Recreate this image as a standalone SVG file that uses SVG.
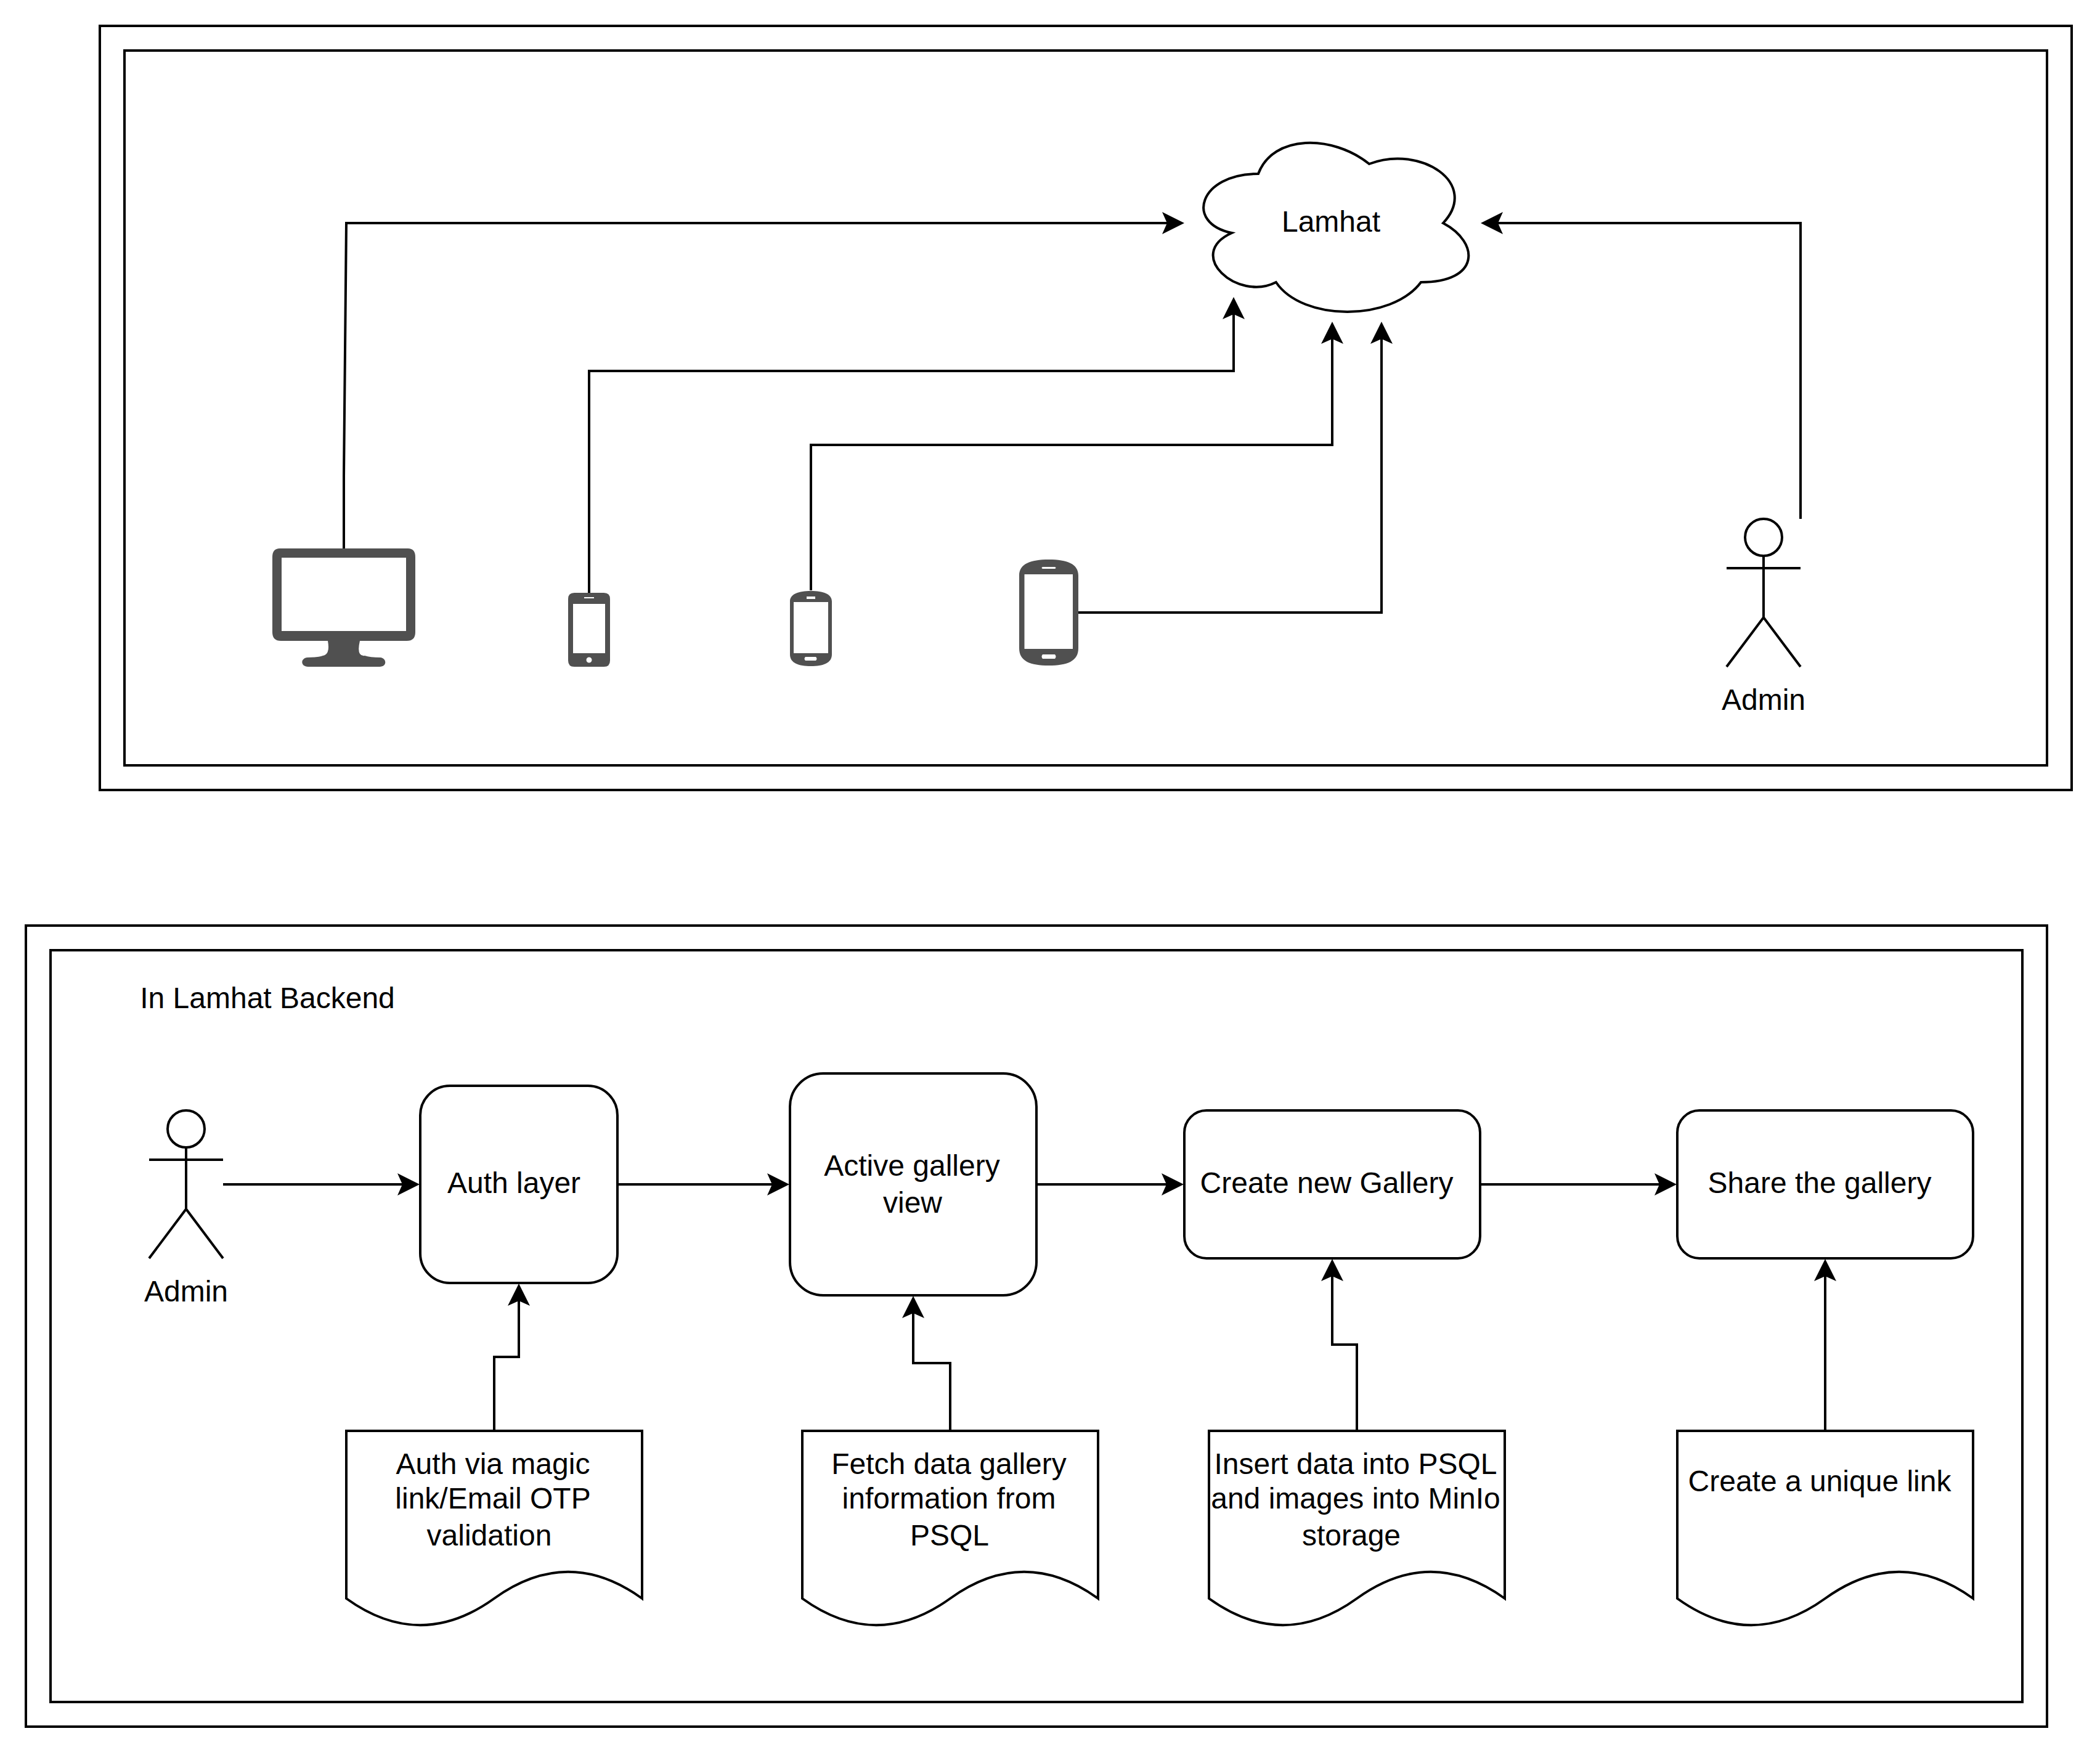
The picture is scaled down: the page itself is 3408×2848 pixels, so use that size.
<svg xmlns="http://www.w3.org/2000/svg" width="3408" height="2848" viewBox="0 0 3408 2848">
<style>
.s{fill:#fff;stroke:#000;stroke-width:4;stroke-miterlimit:10}
.a{fill:none;stroke:#000;stroke-width:4;stroke-miterlimit:10}
.c{fill:none;stroke:#000;stroke-width:4;stroke-miterlimit:10;marker-end:url(#arrow)}
.i{fill:#505050;fill-rule:evenodd}
text{font-family:"Liberation Sans",Arial,Helvetica,sans-serif;font-size:48px;fill:#000;text-anchor:middle}
</style>
<defs>
<marker id="arrow" markerUnits="userSpaceOnUse" markerWidth="36" markerHeight="36" viewBox="0 0 36 36" refX="12" refY="18" orient="auto"><path d="M36 18L0 0L8 18L0 36Z" fill="#000"/></marker>
<g id="actor-shape"><ellipse class="s" cx="60" cy="30" rx="30" ry="30"/><path class="a" d="M60 60V160M60 80H0M60 80H120M60 160L0 240M60 160L120 240"/></g>
</defs>
<rect width="3408" height="2848" fill="#fff"/>
<g id="frame-top-outer"><rect class="s" x="162" y="42" width="3200" height="1240"/></g>
<g id="frame-top-inner"><rect class="s" x="202" y="82" width="3120" height="1160"/></g>
<g id="frame-bottom-outer"><rect class="s" x="42" y="1502" width="3280" height="1300"/></g>
<g id="frame-bottom-inner"><rect class="s" x="82" y="1542" width="3200" height="1220"/></g>
<g id="lamhat"><path class="s" d="M2042 282C1946 282 1922 362 1999 378C1922 413 2008.400 490 2070.800 458C2114 522 2258 522 2306 458C2402 458 2402 394 2342 362C2402 298 2306 234 2222 266C2162 218 2066 218 2042 282Z"/><text x="2160" y="376">Lamhat</text></g>
<g id="desktop"><path class="i" d="M454 890H662Q674 890 674 904V1026Q674 1040 660 1040H584Q578 1066 592 1064Q600 1067 618 1067C628 1069 628 1082 616 1082H500C488 1082 487 1069 498 1067Q516 1067 524 1064Q536 1062 532 1040H456Q442 1040 442 1026V904Q442 890 454 890ZM457 905V1024H659V905Z"/></g>
<g id="iphone"><path class="i" d="M932 962H980Q990 962 990 972V1072Q990 1082 980 1082H932Q922 1082 922 1072V972Q922 962 932 962ZM948 969V971H964V969ZM930 980V1060H982V980ZM956 1066.500A4.500 4.500 0 0 0 956 1075.500A4.500 4.500 0 0 0 956 1066.500Z"/></g>
<g id="phone-small"><path class="i" d="M1282 976C1282 964 1296 959 1316 959C1336 959 1350 964 1350 976V1062C1350 1076 1336 1081 1316 1081C1296 1081 1282 1076 1282 1062ZM1288 977V1060H1344V977ZM1309 968V972H1323V968ZM1307 1066Q1304 1069 1307 1072H1324Q1327 1069 1324 1066Z"/></g>
<g id="phone-large"><path class="i" d="M1654 934C1654 915 1672 908 1702 908C1732 908 1750 915 1750 934V1052C1750 1073 1732 1080 1702 1080C1672 1080 1654 1073 1654 1052ZM1662.500 932V1053H1741V932ZM1692 920Q1689 921.500 1692 923H1712Q1715 921.500 1712 920ZM1692 1062Q1689 1065.500 1692 1069H1712Q1715 1065.500 1712 1062Z"/></g>
<g id="admin-top"><use href="#actor-shape" x="2802" y="842"/><text x="2862" y="1152">Admin</text></g>
<g id="admin-bottom"><use href="#actor-shape" x="242" y="1802"/><text x="302" y="2112">Admin</text></g>
<g id="backend-label"><text x="434" y="1636">In Lamhat Backend</text></g>
<g id="auth-layer"><rect class="s" x="682" y="1762" width="320" height="320" rx="48"/><text x="834" y="1936">Auth layer</text></g>
<g id="active-gallery"><rect class="s" x="1282" y="1742" width="400" height="360" rx="54"/><text x="1480" y="1908">Active gallery</text><text x="1481" y="1968">view</text></g>
<g id="create-gallery"><rect class="s" x="1922" y="1802" width="480" height="240" rx="36"/><text x="2153" y="1936">Create new Gallery</text></g>
<g id="share-gallery"><rect class="s" x="2722" y="1802" width="480" height="240" rx="36"/><text x="2953" y="1936">Share the gallery</text></g>
<g id="doc-auth"><path class="s" d="M562 2322H1042V2594Q922 2507.600 802 2594Q682 2680.400 562 2594Z"/><text x="800" y="2392">Auth via magic</text><text x="800" y="2448">link/Email OTP</text><text x="794" y="2508">validation</text></g>
<g id="doc-fetch"><path class="s" d="M1302 2322H1782V2594Q1662 2507.600 1542 2594Q1422 2680.400 1302 2594Z"/><text x="1540" y="2392">Fetch data gallery</text><text x="1540" y="2448">information from</text><text x="1541" y="2508">PSQL</text></g>
<g id="doc-insert"><path class="s" d="M1962 2322H2442V2594Q2322 2507.600 2202 2594Q2082 2680.400 1962 2594Z"/><text x="2200" y="2392">Insert data into PSQL</text><text x="2200" y="2448">and images into MinIo</text><text x="2193" y="2508">storage</text></g>
<g id="doc-link"><path class="s" d="M2722 2322H3202V2594Q3082 2507.600 2962 2594Q2842 2680.400 2722 2594Z"/><text x="2953" y="2420">Create a unique link</text></g>
<g id="connectors">
<path class="c" d="M558 890V772L562 362H1898"/>
<path class="c" d="M956 962V602H2002V506"/>
<path class="c" d="M1316 958V722H2162V546"/>
<path class="c" d="M1750 994H2242V546"/>
<path class="c" d="M2922 842V362H2427"/>
<path class="c" d="M362 1922H657"/>
<path class="c" d="M1002 1922H1257"/>
<path class="c" d="M1682 1922H1897"/>
<path class="c" d="M2402 1922H2697"/>
<path class="c" d="M802 2322V2202H842V2107"/>
<path class="c" d="M1542 2322V2212H1482V2127"/>
<path class="c" d="M2202 2322V2182H2162V2067"/>
<path class="c" d="M2962 2322V2067"/>
</g>
</svg>
